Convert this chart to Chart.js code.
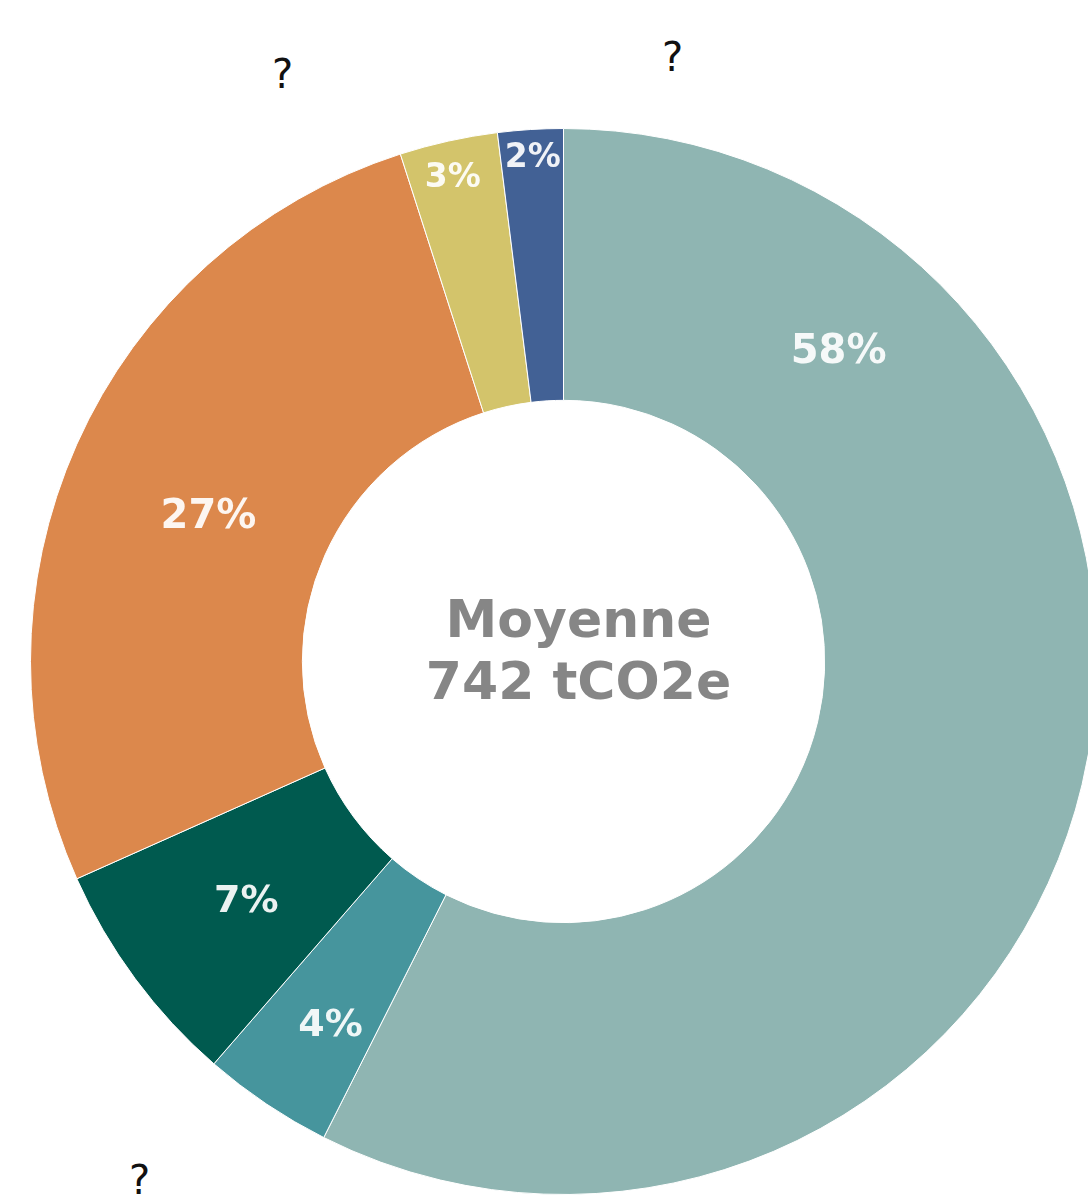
<!DOCTYPE html>
<html>
<head>
<meta charset="utf-8">
<script src="https://cdn.jsdelivr.net/npm/chart.js@4.4.0/dist/chart.umd.min.js"></script>
<style>
    html, body { margin: 0; padding: 0; background: #fff; overflow: hidden; }
    body { width: 1088px; height: 1202px; position: relative; }
    #wrap { position: absolute; left: 30px; top: 128px; width: 1067px; height: 1067px; }
    .q { position: absolute; font-family: 'DejaVu Sans', sans-serif; font-size: 40px; color: #111; line-height: 1; }
</style>
</head>
<body>
<div class="q" style="left:272px; top:54px;">?</div>
<div class="q" style="left:662px; top:37px;">?</div>
<div class="q" style="left:129px; top:1160px;">?</div>
<div id="wrap"><canvas id="donut"></canvas></div>
<script>
// --- Data ---
const categories = ['A', 'B', 'C', 'D', 'E', 'F'];
const shares = [58, 4, 7, 27, 3, 2];
const shareLabels = ['58%', '4%', '7%', '27%', '3%', '2%'];
const sliceColors = ['#8fb5b2', '#46959d', '#005a4f', '#dc884c', '#d3c46b', '#426195'];
const centerLines = ['Moyenne', '742 tCO2e'];

// where each percent label sits: angle (deg, clockwise from top) and fraction of outer radius
const labelSpots = [
    { a: 41.7, r: 0.776, size: 40 },
    { a: 212.6, r: 0.811, size: 38 },
    { a: 232.8, r: 0.747, size: 38 },
    { a: 292.1, r: 0.719, size: 40 },
    { a: 347.1, r: 0.93, size: 33 },
    { a: 356.5, r: 0.946, size: 33 }
];

// --- Plugin: percent labels + centre text ---
const donutText = {
    id: 'donutText',
    afterDatasetsDraw(chart) {
        const ctx = chart.ctx;
        const arc = chart.getDatasetMeta(0).data[0];
        const cx = arc.x, cy = arc.y, R = arc.outerRadius;
        ctx.save();
        ctx.textAlign = 'center';
        ctx.textBaseline = 'middle';
        shareLabels.forEach((txt, i) => {
            const s = labelSpots[i];
            const rad = s.a * Math.PI / 180;
            ctx.font = 'bold ' + s.size + 'px "DejaVu Sans", sans-serif';
            ctx.fillStyle = 'rgba(255,255,255,0.92)';
            ctx.fillText(txt, cx + Math.sin(rad) * R * s.r, cy - Math.cos(rad) * R * s.r);
        });
        ctx.fillStyle = '#868686';
        ctx.font = 'bold 52px "DejaVu Sans", sans-serif';
        ctx.fillText(centerLines[0], cx + 15, cy - 38);
        ctx.fillText(centerLines[1], cx + 15, cy + 24);
        ctx.restore();
    }
};

new Chart(document.getElementById('donut').getContext('2d'), {
    type: 'doughnut',
    data: {
        labels: categories,
        datasets: [{
            data: shares,
            backgroundColor: sliceColors,
            borderColor: '#ffffff',
            borderWidth: 1,
            hoverOffset: 0,
            offset: 0
        }]
    },
    options: {
        responsive: true,
        maintainAspectRatio: false,
        animation: false,
        cutout: '49%',
        layout: { padding: 0 },
        plugins: {
            legend: { display: false },
            tooltip: { enabled: false }
        }
    },
    plugins: [donutText]
});
</script>
</body>
</html>
